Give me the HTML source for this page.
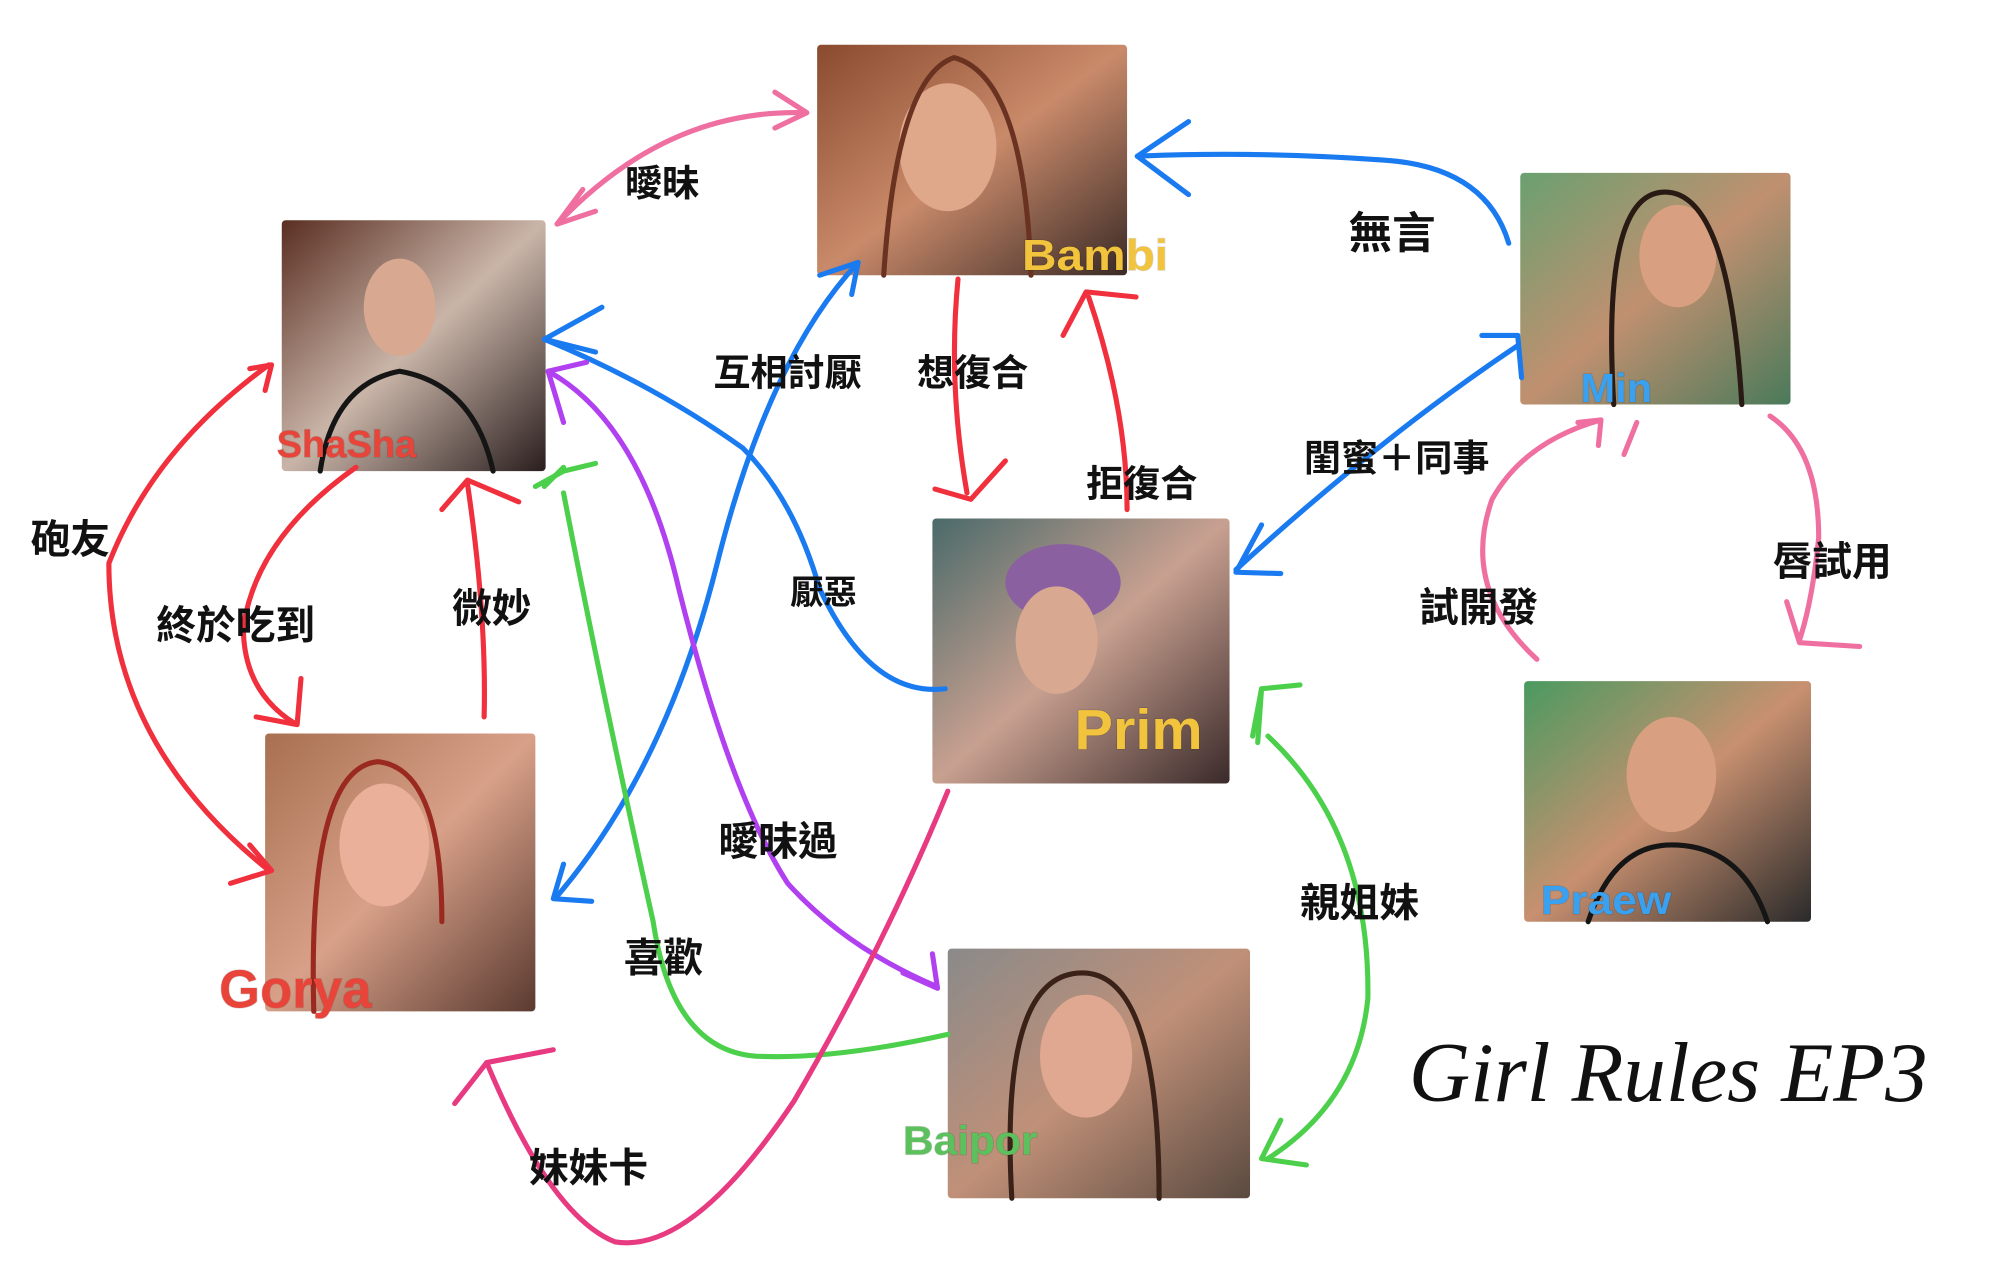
<!DOCTYPE html>
<html><head><meta charset="utf-8"><style>
html,body{margin:0;padding:0;background:#fff;}
svg{display:block;}
.t{font-family:"Liberation Sans","Noto Sans CJK TC",sans-serif;font-weight:bold;font-size:29px;fill:#111;}
.n{font-family:"Liberation Sans",sans-serif;font-size:34px;font-weight:bold;paint-order:stroke;stroke:rgba(0,0,0,0.15);stroke-width:1px;}
path{fill:none;stroke-width:4;stroke-linecap:round;stroke-linejoin:round;}
</style></head><body>
<svg width="1998" height="1261" viewBox="0 0 1560 985" preserveAspectRatio="none" xmlns="http://www.w3.org/2000/svg">
<defs>
<linearGradient id="g1" x1="0" y1="0" x2="1" y2="1"><stop offset="0" stop-color="#8a4a2e"/><stop offset="0.5" stop-color="#c98a6a"/><stop offset="1" stop-color="#3a2a26"/></linearGradient>
<linearGradient id="g2" x1="0" y1="0" x2="1" y2="1"><stop offset="0" stop-color="#5a2e22"/><stop offset="0.5" stop-color="#c9b5a8"/><stop offset="1" stop-color="#2a1e1e"/></linearGradient>
<linearGradient id="g3" x1="0" y1="0" x2="1" y2="1"><stop offset="0" stop-color="#6aa070"/><stop offset="0.5" stop-color="#c09070"/><stop offset="1" stop-color="#4a7a5a"/></linearGradient>
<linearGradient id="g4" x1="0" y1="0" x2="1" y2="1"><stop offset="0" stop-color="#4a6a6a"/><stop offset="0.5" stop-color="#c8a090"/><stop offset="1" stop-color="#3a2a2a"/></linearGradient>
<linearGradient id="g5" x1="0" y1="0" x2="1" y2="1"><stop offset="0" stop-color="#a87050"/><stop offset="0.5" stop-color="#d8a088"/><stop offset="1" stop-color="#5a3a30"/></linearGradient>
<linearGradient id="g6" x1="0" y1="0" x2="1" y2="1"><stop offset="0" stop-color="#4a9a60"/><stop offset="0.5" stop-color="#c89070"/><stop offset="1" stop-color="#2a2a2a"/></linearGradient>
<linearGradient id="g7" x1="0" y1="0" x2="1" y2="1"><stop offset="0" stop-color="#8a8a8a"/><stop offset="0.5" stop-color="#c09078"/><stop offset="1" stop-color="#5a4a40"/></linearGradient>
</defs>
<rect x="638" y="35" width="242" height="180" fill="url(#g1)" rx="3"/>
<ellipse cx="740" cy="115" rx="38" ry="50" fill="#e0a88a"/><path d="M690 215 Q700 60 745 45 Q800 60 805 215" stroke="#6a3220" stroke-width="14"/>
<rect x="220" y="172" width="206" height="196" fill="url(#g2)" rx="3"/>
<ellipse cx="312" cy="240" rx="28" ry="38" fill="#d8a890"/><path d="M250 368 Q260 300 312 290 Q370 300 385 368" stroke="#151515" stroke-width="40"/>
<rect x="1187" y="135" width="211" height="181" fill="url(#g3)" rx="3"/>
<ellipse cx="1310" cy="200" rx="30" ry="40" fill="#d8a080"/><path d="M1260 316 Q1250 150 1300 150 Q1350 150 1360 316" stroke="#2a1a14" stroke-width="12"/>
<rect x="728" y="405" width="232" height="207" fill="url(#g4)" rx="3"/>
<ellipse cx="830" cy="455" rx="45" ry="30" fill="#8a60a0"/><ellipse cx="825" cy="500" rx="32" ry="42" fill="#d8a890"/>
<rect x="207" y="573" width="211" height="217" fill="url(#g5)" rx="3"/>
<ellipse cx="300" cy="660" rx="35" ry="48" fill="#eab09a"/><path d="M245 790 Q240 600 295 595 Q345 600 345 720" stroke="#9a2a20" stroke-width="16"/>
<rect x="1190" y="532" width="224" height="188" fill="url(#g6)" rx="3"/>
<ellipse cx="1305" cy="605" rx="35" ry="45" fill="#d8a080"/><path d="M1240 720 Q1260 660 1305 660 Q1360 660 1380 720" stroke="#151515" stroke-width="30"/>
<rect x="740" y="741" width="236" height="195" fill="url(#g7)" rx="3"/>
<ellipse cx="848" cy="825" rx="36" ry="48" fill="#e0a890"/><path d="M790 936 Q780 760 845 760 Q905 760 905 936" stroke="#3a2218" stroke-width="12"/>
<text class="n" x="798" y="211" fill="#f2c33c" textLength="114" lengthAdjust="spacingAndGlyphs">Bambi</text>
<text class="n" x="216" y="357" fill="#e8443a" style="font-size:30px" textLength="109" lengthAdjust="spacingAndGlyphs">ShaSha</text>
<text class="n" x="1234" y="314" fill="#3aa0f0" style="font-size:32px" textLength="56" lengthAdjust="spacingAndGlyphs">Min</text>
<text class="n" x="839" y="585" fill="#f2c33c" style="font-size:44px" textLength="100" lengthAdjust="spacingAndGlyphs">Prim</text>
<text class="n" x="171" y="787" fill="#e8443a" style="font-size:42px" textLength="119" lengthAdjust="spacingAndGlyphs">Gorya</text>
<text class="n" x="1203" y="714" fill="#3aa0f0" style="font-size:32px" textLength="102" lengthAdjust="spacingAndGlyphs">Praew</text>
<text class="n" x="705" y="902" fill="#5cc05c" style="font-size:32px" textLength="105" lengthAdjust="spacingAndGlyphs">Baipor</text>
<g stroke="#ee6fa0">
<path d="M435 175 Q520 85 628 88"/><path d="M605 72 L630 88 L605 100"/><path d="M455 148 L435 175 L465 165"/>
<path d="M1200 515 Q1140 460 1165 390 Q1190 345 1250 328"/><path d="M1232 330 L1250 328 L1248 348"/><path d="M1268 355 L1278 330"/>
<path d="M1382 325 Q1420 350 1420 420 Q1415 470 1405 500"/><path d="M1395 470 L1405 502 L1452 505"/>
</g>
<g stroke="#1a7af0">
<path d="M1178 190 Q1160 130 1080 125 Q980 118 888 122"/><path d="M928 95 L888 122 L928 152"/>
<path d="M965 445 Q1080 340 1185 270"/><path d="M1157 262 L1185 262 L1188 295"/><path d="M985 410 L965 447 L1000 448"/>
<path d="M738 538 Q680 545 640 460 Q620 390 580 350 Q510 300 425 265"/><path d="M470 240 L425 265 L465 275"/>
<path d="M435 700 Q520 600 560 440 Q600 280 670 205"/><path d="M640 215 L670 205 L665 230"/><path d="M440 675 L432 702 L462 704"/>
</g>
<g stroke="#f0303c">
<path d="M210 285 Q120 350 85 440 Q85 580 210 680"/><path d="M195 288 L212 285 L207 305"/><path d="M180 690 L212 680 L195 660"/>
<path d="M278 365 Q200 420 190 490 Q190 540 230 565"/><path d="M200 560 L232 566 L235 530"/>
<path d="M378 560 Q380 480 365 378"/><path d="M345 398 L365 375 L405 392"/>
<path d="M748 218 Q740 300 755 385"/><path d="M730 382 L758 390 L785 360"/>
<path d="M880 398 Q880 320 850 232"/><path d="M830 262 L848 228 L887 232"/>
</g>
<g stroke="#b040f0">
<path d="M428 290 Q500 330 530 460 Q570 620 615 690 Q660 740 730 770"/><path d="M458 283 L428 290 L440 330"/><path d="M705 760 L732 772 L728 745"/>
</g>
<g stroke="#4cd04c">
<path d="M740 808 Q650 828 590 825 Q525 820 510 720 Q470 540 440 385"/><path d="M418 380 L440 368 L465 362"/><path d="M425 380 L440 365"/>
<path d="M990 575 Q1070 650 1068 780 Q1060 860 990 905"/><path d="M978 575 L985 538 L1015 535"/><path d="M982 580 L985 538"/><path d="M1000 875 L985 905 L1020 910"/>
</g>
<g stroke="#e83a80">
<path d="M740 618 Q690 740 620 860 Q540 980 480 970 Q430 950 380 830"/><path d="M355 862 L380 830 L432 820"/>
</g>
<text class="t" x="488" y="153">曖昧</text>
<text class="t" x="1053" y="194" style="font-size:34px">無言</text>
<text class="t" x="557" y="301">互相討厭</text>
<text class="t" x="716" y="301">想復合</text>
<text class="t" x="848" y="388">拒復合</text>
<text class="t" x="1018" y="368">閨蜜＋同事</text>
<text class="t" x="24" y="432" style="font-size:31px">砲友</text>
<text class="t" x="122" y="499" style="font-size:31px">終於吃到</text>
<text class="t" x="353" y="486" style="font-size:31px">微妙</text>
<text class="t" x="617" y="472" style="font-size:26px">厭惡</text>
<text class="t" x="1108" y="485" style="font-size:31px">試開發</text>
<text class="t" x="1384" y="449" style="font-size:31px">唇試用</text>
<text class="t" x="561" y="668" style="font-size:31px">曖昧過</text>
<text class="t" x="1015" y="716" style="font-size:31px">親姐妹</text>
<text class="t" x="487" y="759" style="font-size:31px">喜歡</text>
<text class="t" x="413" y="923" style="font-size:31px">妹妹卡</text>
<text x="1100" y="860" textLength="405" lengthAdjust="spacingAndGlyphs" style="font-family:'Liberation Serif',serif;font-style:italic;font-size:66px;fill:#111;">Girl Rules EP3</text>
</svg>
</body></html>
